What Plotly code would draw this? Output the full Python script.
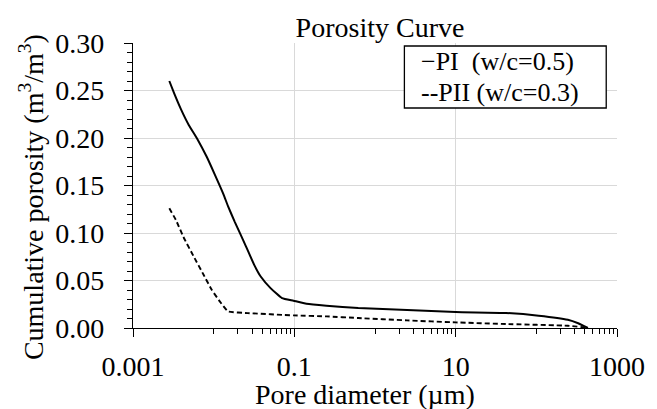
import plotly.graph_objects as go

# Pore diameter (µm) and cumulative porosity (m3/m3)
pi_diam = [0.00282, 0.00324, 0.0039, 0.00493, 0.00622, 0.00823, 0.0104, 0.0132,
           0.0151, 0.0182, 0.0209, 0.0252, 0.0318, 0.0383, 0.0507, 0.0703, 0.0975,
           0.1416, 0.25, 0.62, 2.5, 10, 42, 107, 246, 330, 436]
pi_poro = [0.260, 0.247, 0.231, 0.2135, 0.1996, 0.180, 0.161, 0.141,
           0.128, 0.112, 0.101, 0.0857, 0.0665, 0.0542, 0.042, 0.0315, 0.0287,
           0.0255, 0.0234, 0.021, 0.019, 0.0168, 0.0158, 0.013, 0.0087, 0.005, 0.0]

pii_diam = [0.00282, 0.0034, 0.00429, 0.00566, 0.0075, 0.00946, 0.0119, 0.0151,
            0.0264, 0.0975, 0.25, 0.62, 2.5, 10, 42, 246, 436]
pii_poro = [0.126, 0.1138, 0.0945, 0.0752, 0.056, 0.0402, 0.028, 0.0174,
            0.0157, 0.0133, 0.0122, 0.0105, 0.008, 0.0059, 0.0042, 0.0024, 0.0003]

x_ticks = [0.001, 0.1, 10, 1000]
x_tick_labels = ["0.001", "0.1", "10", "1000"]
x_minor = [m * 10 ** e for e in (-2, 0, 2) for m in range(1, 10)]
y_ticks = [0.0, 0.05, 0.10, 0.15, 0.20, 0.25, 0.30]
y_tick_labels = ["0.00", "0.05", "0.10", "0.15", "0.20", "0.25", "0.30"]
legend_labels = ["\u2212PI\u00a0\u00a0(w/c=0.5)", "--PII (w/c=0.3)"]

FONT = "Liberation Serif"
FS = 28
LFS = 26
L, R, T, B = 133, 30, 43, 81
W, H = 657, 409
PW, PH = W - L - R, H - T - B


def px_x(p):
    return (p - L) / PW


def px_y(p):
    return (H - B - p) / PH


fig = go.Figure()
fig.add_trace(go.Scatter(x=pi_diam, y=pi_poro, mode="lines", name="PI  (w/c=0.5)",
                         line=dict(color="black", width=2, shape="spline", smoothing=0.4),
                         showlegend=False))
fig.add_trace(go.Scatter(x=pii_diam, y=pii_poro, mode="lines", name="PII (w/c=0.3)",
                         line=dict(color="black", width=1.9, dash="5px,3px",
                                   shape="spline", smoothing=0.3),
                         showlegend=False))

fig.update_layout(
    width=W, height=H,
    margin=dict(l=L, r=R, t=T, b=B),
    paper_bgcolor="white", plot_bgcolor="white",
    font=dict(family=FONT, color="black", size=FS),
    title=dict(text="Porosity Curve", x=(L + W - R) / 2 / W, xanchor="center",
               y=1 - 27 / H, yanchor="middle", font=dict(size=FS, family=FONT, color="black")),
)
fig.update_xaxes(
    type="log", range=[-3, 3],
    tickvals=x_ticks, ticktext=x_tick_labels,
    ticks="outside", ticklen=8, tickwidth=1.3, tickcolor="black",
    showline=True, linecolor="black", linewidth=1.3,
    showgrid=True, gridcolor="#d9d9d9", gridwidth=1,
    tickfont=dict(size=FS, family=FONT),
    minor=dict(tickmode="array", tickvals=x_minor, ticks="outside", ticklen=5,
               tickcolor="black", tickwidth=1.2, showgrid=False),
    ticklabelstandoff=5,
    zeroline=False,
)
fig.update_yaxes(
    range=[0, 0.30],
    tickvals=y_ticks, ticktext=y_tick_labels,
    ticks="outside", ticklen=8, tickwidth=1.3, tickcolor="black",
    showline=True, linecolor="black", linewidth=1.3,
    showgrid=True, gridcolor="#d9d9d9", gridwidth=1,
    tickfont=dict(size=FS, family=FONT),
    minor=dict(dtick=0.01, tick0=0, ticks="outside", ticklen=5,
               tickcolor="black", tickwidth=1.2, showgrid=False),
    ticklabelstandoff=14,
    zeroline=False,
)

# Axis titles
fig.add_annotation(xref="paper", yref="paper", x=px_x(370), y=px_y(394),
                   xanchor="center", yanchor="middle", showarrow=False,
                   text="Pore diameter (µm)", font=dict(size=FS, family=FONT, color="black"))
fig.add_annotation(xref="paper", yref="paper", x=px_x(29), y=px_y(197),
                   xanchor="center", yanchor="middle", showarrow=False, textangle=-90,
                   text="Cumulative porosity (m<sup>3</sup>/m<sup>3</sup>)",
                   font=dict(size=FS, family=FONT, color="black"))

# Legend box drawn as in the reference (short text dashes as symbols)
fig.add_shape(type="rect", xref="paper", yref="paper",
              x0=px_x(410), x1=px_x(616), y0=px_y(108), y1=px_y(46),
              line=dict(color="black", width=1.3), fillcolor="white", layer="above")
mid = 77
fig.add_annotation(xref="paper", yref="paper", x=px_x(426), y=px_y(mid),
                   xanchor="left", yanchor="bottom", showarrow=False, align="left",
                   borderpad=0, text=legend_labels[0],
                   font=dict(size=LFS, family=FONT, color="black"))
fig.add_annotation(xref="paper", yref="paper", x=px_x(426), y=px_y(mid),
                   xanchor="left", yanchor="top", showarrow=False, align="left",
                   borderpad=0, text=legend_labels[1],
                   font=dict(size=LFS, family=FONT, color="black"))

fig.write_html("out.html")
